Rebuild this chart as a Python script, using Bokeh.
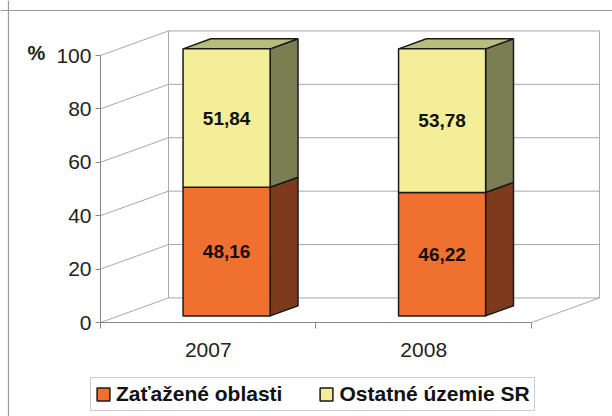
from bokeh.plotting import figure
from bokeh.models import ColumnDataSource, FixedTicker, Legend, LegendItem, Label, Range1d, Span
from bokeh.embed import file_html
from bokeh.resources import INLINE
from bokeh.core.properties import value

# ---- data ----
years = ["2007", "2008"]
zatazene = [48.16, 46.22]
ostatne = [51.84, 53.78]
series_names = ["Zaťažené oblasti", "Ostatné územie SR"]
y_ticks = [0, 20, 40, 60, 80, 100]

# ---- style ----
FONT = "Liberation Sans"
DX, DY = 0.3155, 9.2          # full depth of the 3D box (data units)
F0, F1 = 0.27, 0.68           # bar depth (fraction of full depth)
HALF_W = 0.202                # half bar width
front_colors = ["#F07030", "#F4EE98"]
side_colors = ["#7E3A1C", "#7A7E52"]
top_colors = ["#A85028", "#B7BD7C"]
EDGE = "#1a1a1a"
GRID = "#a8a8a8"
X0, X1 = -0.464, 2.376
Y0, Y1 = -35.2, 120.6

n = len(years)
series = [zatazene, ostatne]

p = figure(width=612, height=416, x_range=Range1d(X0, X1), y_range=Range1d(Y0, Y1),
           output_backend="svg", toolbar_location=None, min_border=0)
p.grid.visible = False
p.outline_line_color = None

# outer chart border (left & top edges)
p.add_layout(Span(location=-0.427, dimension="height", line_color="#9a9a9a", line_width=1.2))
p.add_layout(Span(location=116.85, dimension="width", line_color="#9a9a9a", line_width=1.2))

# ---- axes ----
ya = p.yaxis[0]
ya.fixed_location = 0
ya.ticker = FixedTicker(ticks=y_ticks)
ya.bounds = (0, 100)
ya.major_tick_out = 5
ya.major_tick_in = 0
ya.minor_tick_out = 0
ya.minor_tick_in = 0
ya.axis_line_color = "#888888"
ya.major_tick_line_color = "#888888"
ya.major_label_text_font = FONT
ya.major_label_text_font_size = "21px"
ya.major_label_text_color = "#222222"
ya.major_label_standoff = 4

xticks = [i + 0.5 for i in range(n)]
xa = p.xaxis[0]
xa.fixed_location = 0
xa.ticker = FixedTicker(ticks=xticks, minor_ticks=list(range(n + 1)))
xa.major_label_overrides = {t: y for t, y in zip(xticks, years)}
xa.bounds = (0, n)
xa.major_tick_out = 0
xa.major_tick_in = 0
xa.minor_tick_out = 6
xa.minor_tick_in = 0
xa.axis_line_color = "#888888"
xa.minor_tick_line_color = "#888888"
xa.major_label_text_font = FONT
xa.major_label_text_font_size = "21px"
xa.major_label_text_color = "#222222"
xa.major_label_standoff = 14

# ---- walls & floor ----
x0 = [0] * len(y_ticks) + [DX] * len(y_ticks) + [DX, n + DX, n]
y0 = list(y_ticks) + [t + DY for t in y_ticks] + [DY, DY, 0]
x1 = [DX] * len(y_ticks) + [n + DX] * len(y_ticks) + [DX, n + DX, n + DX]
y1 = [t + DY for t in y_ticks] + [t + DY for t in y_ticks] + [max(y_ticks) + DY, max(y_ticks) + DY, DY]
p.segment(x0=x0, y0=y0, x1=x1, y1=y1, line_color=GRID, line_width=1)

# ---- bars ----
front_renderers = []
base = [0.0] * n
for s, vals in enumerate(series):
    L0 = [i + 0.5 - HALF_W + F0 * DX for i in range(n)]
    R0 = [i + 0.5 + HALF_W + F0 * DX for i in range(n)]
    L1 = [i + 0.5 - HALF_W + F1 * DX for i in range(n)]
    R1 = [i + 0.5 + HALF_W + F1 * DX for i in range(n)]
    bot = base[:]
    top = [b + v for b, v in zip(base, vals)]
    p.patches(xs=[[R0[i], R1[i], R1[i], R0[i]] for i in range(n)],
              ys=[[bot[i] + F0 * DY, bot[i] + F1 * DY, top[i] + F1 * DY, top[i] + F0 * DY] for i in range(n)],
              fill_color=side_colors[s], line_color=EDGE, line_width=1.5)
    if s == len(series) - 1:
        p.patches(xs=[[L0[i], R0[i], R1[i], L1[i]] for i in range(n)],
                  ys=[[top[i] + F0 * DY, top[i] + F0 * DY, top[i] + F1 * DY, top[i] + F1 * DY] for i in range(n)],
                  fill_color=top_colors[s], line_color=EDGE, line_width=1.5)
    src = ColumnDataSource(dict(left=L0, right=R0,
                                bottom=[b + F0 * DY for b in bot],
                                top=[t + F0 * DY for t in top]))
    r = p.quad(left="left", right="right", bottom="bottom", top="top", source=src,
               fill_color=front_colors[s], line_color=EDGE, line_width=1.5)
    front_renderers.append(r)
    p.text(x=[i + 0.5 + F0 * DX for i in range(n)],
           y=[b + v / 2 + F0 * DY for b, v in zip(bot, vals)],
           text=[f"{v:.2f}".replace(".", ",") for v in vals],
           text_font=value(FONT), text_font_style="bold", text_font_size="19px",
           text_align="center", text_baseline="middle", text_color="#111111")
    base = top

# ---- % label ----
p.add_layout(Label(x=-0.339, y=101, text="%", text_font=FONT, text_font_size="20px",
                   text_font_style="bold", text_baseline="middle", text_align="left",
                   text_color="#222222"))

# ---- legend ----
legend = Legend(items=[LegendItem(label=series_names[s], renderers=[front_renderers[s]])
                       for s in range(len(series))],
                orientation="horizontal", location=(90, 5),
                label_text_font=FONT, label_text_font_style="bold", label_text_font_size="21px",
                label_text_color="#111111",
                glyph_width=16, glyph_height=16, label_standoff=5, spacing=36, padding=4,
                border_line_color="#999999", margin=0)
p.add_layout(legend)

open("out.html", "w").write(file_html(p, INLINE))
